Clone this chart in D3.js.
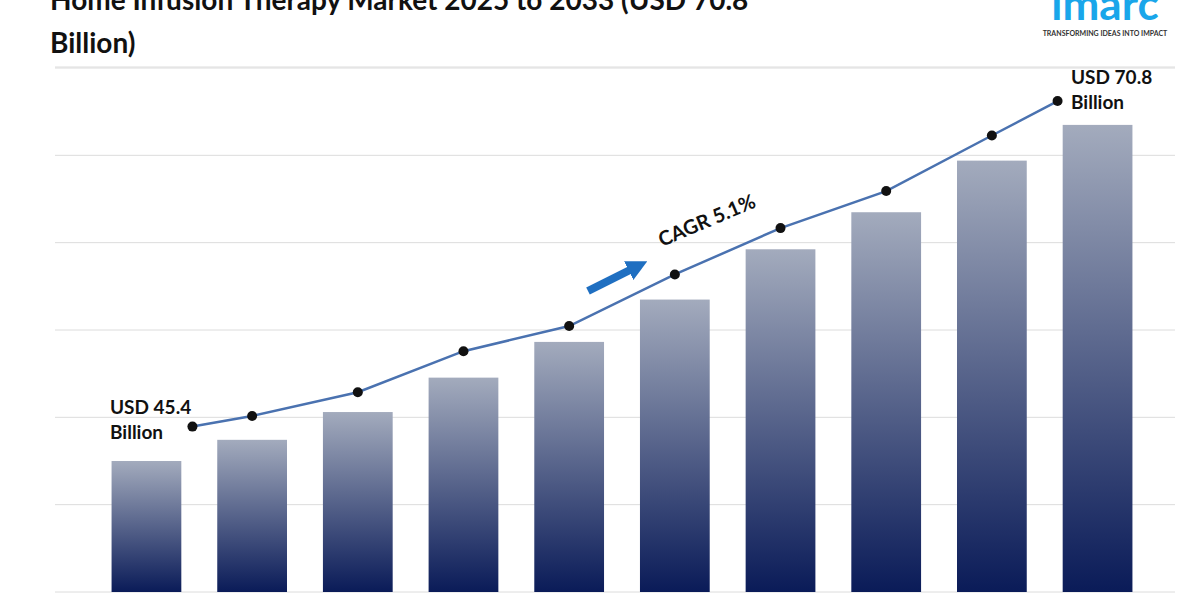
<!DOCTYPE html>
<html><head><meta charset="utf-8">
<script src="https://cdn.jsdelivr.net/npm/d3@7"></script>
<style>body{margin:0;background:#fff}text{font-family:Lato,"Open Sans",sans-serif}</style>
</head><body><svg id="chart" width="1200" height="600"></svg>
<script>
// Market size by year (USD billion)
var years = ["2025","2026","2027","2028","2029","2030","2031","2032","2033","2034"];
var values = [45.4, 47.0, 49.1, 51.7, 54.4, 57.6, 61.4, 64.2, 68.1, 70.8];
// Trend line points drawn above the bars
var trend = [48.0, 48.8, 50.6, 53.7, 55.6, 59.5, 63.0, 65.8, 70.0, 72.6];
var gridTicks = [35.5, 42.1, 48.7, 55.3, 61.9, 68.5, 75.1];

var svg = d3.select("#chart");

var x = d3.scaleBand().domain(years).range([101, 1143]).paddingInner(0.34).paddingOuter(0.1);
var y = d3.scaleLinear().domain([35.5, 75.1]).range([592, 68]);

var grad = svg.append("defs").append("linearGradient")
    .attr("id", "barGrad").attr("x1", 0).attr("x2", 0).attr("y1", 0).attr("y2", 1);
grad.append("stop").attr("offset", "0%").attr("stop-color", "#a3abbd");
grad.append("stop").attr("offset", "100%").attr("stop-color", "#0a1b58");

// Grid lines
svg.selectAll(".grid").data(gridTicks).enter().append("line")
    .attr("x1", 55).attr("x2", 1175)
    .attr("y1", d => y(d)).attr("y2", d => y(d))
    .attr("stroke", "#dcdcdc").attr("stroke-width", 1);

// Bars
svg.selectAll(".bar").data(values).enter().append("rect")
    .attr("x", (d, i) => x(years[i]))
    .attr("width", x.bandwidth())
    .attr("y", d => y(d))
    .attr("height", d => y(35.5) - y(d))
    .attr("fill", "url(#barGrad)");

// Trend line
var dx = function(i) {
  var c = x(years[i]) + x.bandwidth() / 2;
  if (i == 0) return c + 46;
  if (i == years.length - 1) return c - 40;
  return c;
};
svg.append("path").datum(trend)
    .attr("d", d3.line().x((d, i) => dx(i)).y(d => y(d)))
    .attr("fill", "none").attr("stroke", "#4a72b0").attr("stroke-width", 2.5);
svg.selectAll(".dot").data(trend).enter().append("circle")
    .attr("cx", (d, i) => dx(i)).attr("cy", d => y(d)).attr("r", 5).attr("fill", "#111");

// Labels
function label(xp, yp, lines) {
  var t = svg.append("text").attr("x", xp).attr("y", yp)
      .attr("font-size", 19).attr("font-weight", "bold").attr("fill", "#111");
  lines.forEach((l, i) => t.append("tspan").attr("x", xp).attr("dy", i ? 25 : 0).text(l));
}
label(110, 414, ["USD 45.4", "Billion"]);
label(1071, 84, ["USD 70.8", "Billion"]);

svg.append("text").attr("transform", "translate(662,247) rotate(-23)")
    .attr("font-size", 20).attr("font-weight", "bold").attr("fill", "#111").text("CAGR 5.1%");
svg.append("defs").append("marker").attr("id", "ah").attr("viewBox", "0 0 10 10")
    .attr("refX", 5).attr("refY", 5).attr("markerWidth", 2.6).attr("markerHeight", 2.6)
    .attr("orient", "auto").append("path").attr("d", "M0,0L10,5L0,10z").attr("fill", "#1f6fc1");
svg.append("line").attr("x1", 588).attr("y1", 291).attr("x2", 638).attr("y2", 266)
    .attr("stroke", "#1f6fc1").attr("stroke-width", 8).attr("marker-end", "url(#ah)");

// Title
var title = svg.append("text").attr("font-size", 28).attr("font-weight", "bold").attr("fill", "#111");
title.append("tspan").attr("x", 50).attr("y", 10).text("Home Infusion Therapy Market 2025 to 2033 (USD 70.8");
title.append("tspan").attr("x", 50).attr("y", 53).text("Billion)");
svg.append("line").attr("x1", 55).attr("x2", 1175).attr("y1", 67).attr("y2", 67).attr("stroke", "#dcdcdc");

// Logo
svg.append("text").attr("x", 1105).attr("y", 20).attr("text-anchor", "middle")
    .attr("font-size", 44).attr("font-weight", "bold").attr("fill", "#19a6ea").text("imarc");
svg.append("text").attr("x", 1105).attr("y", 36).attr("text-anchor", "middle")
    .attr("font-size", 7).attr("font-weight", "bold").attr("fill", "#333").text("TRANSFORMING IDEAS INTO IMPACT");
</script></body></html>
